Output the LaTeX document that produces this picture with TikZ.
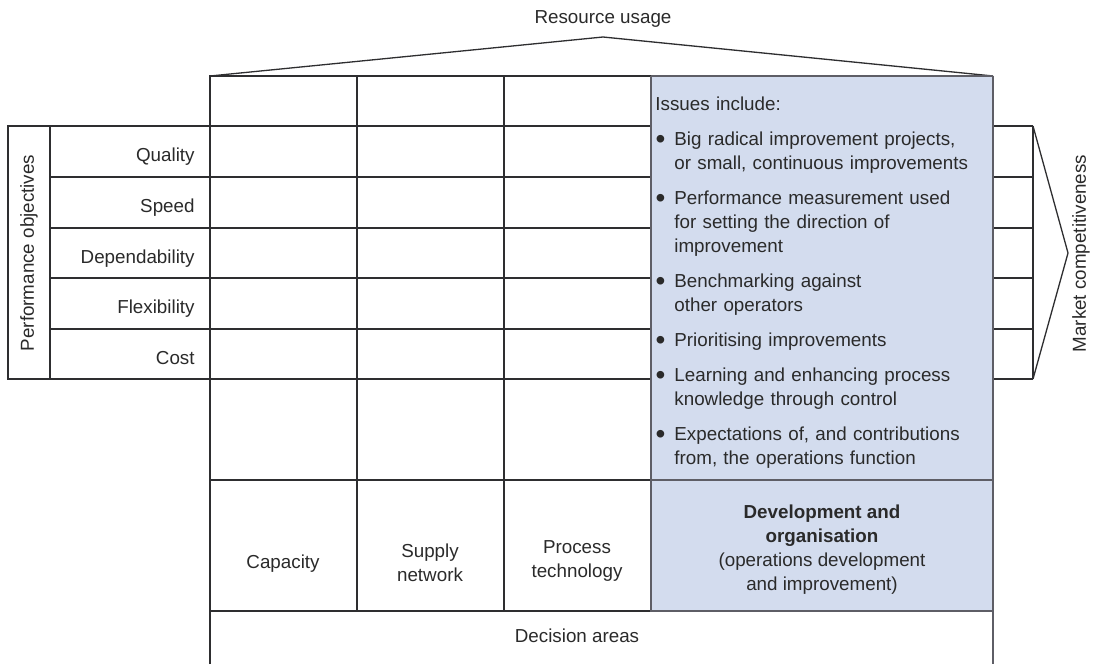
\documentclass[tikz,border=0pt]{standalone}
\usepackage{fontspec}
\setmainfont{Liberation Sans}
\usetikzlibrary{positioning}
\newcommand{\Px}{0.5pt}
\newcommand{\Rule}{0.65pt}
\newcommand{\Frame}{1.0pt}
\definecolor{ink}{HTML}{2E2E30}
\definecolor{frame}{HTML}{5E5E66}
\definecolor{panel}{HTML}{D3DCEE}
\definecolor{txt}{HTML}{2A2A2A}
% one bullet of the issues list
\newcommand{\Dot}{\raisebox{-1.5pt}{\fontsize{14}{12}\selectfont\textbullet}}
\newcommand{\Issue}[1]{\par\vspace{5.5pt}\hangindent=9.5pt\hangafter=0\noindent\llap{\Dot\hspace{4.5pt}}#1}

\begin{document}
\begin{tikzpicture}[x=\Px,y=-\Px, line join=miter,
    font=\fontsize{9.4}{12}\selectfont, text=txt,
    cell/.style={ink,line width=\Rule},
    rowlabel/.style={anchor=base east,inner sep=0pt},
    area/.style={align=center,inner sep=0pt}]
  \useasboundingbox (0,0) rectangle (1096,664);

  % ---- the shaded column: development and organisation -------------------
  \fill[panel] (651,76) rectangle (993,611);

  % ---- roof over the grid ----------------------------------------------------
  \draw[cell] (210,76) -- (603,37) -- (993,76);
  \node[anchor=base] (usage) at (603,24) {Resource usage};

  % ---- grid body -------------------------------------------------------------
  \draw[cell] (210,664) -- (210,76) -- (651,76);
  \foreach \x in {357,504} { \draw[cell] (\x,76) -- (\x,611); }
  \foreach \y in {126,177,228,278,329,379} {
    \draw[cell] (50,\y) -- (651,\y);
    \draw[cell] (993,\y) -- (1033,\y);
  }
  \draw[cell] (50,126) -- (8,126) -- (8,379) -- (50,379);
  \draw[cell] (50,126) -- (50,379);
  \draw[cell] (210,480) -- (651,480);
  \draw[cell] (210,611) -- (651,611);
  % panel edges are a shade greyer and heavier
  \draw[frame,line width=\Frame] (651,76) -- (993,76);
  \draw[frame,line width=\Frame] (651,76) -- (651,611) -- (993,611);
  \draw[frame,line width=\Frame] (651,480) -- (993,480);
  \draw[frame,line width=\Frame] (993,76) -- (993,664);

  % ---- wedge to the right ----------------------------------------------------
  \draw[cell] (1033,126) -- (1033,379);
  \draw[cell] (1033,126) -- (1068,253) -- (1033,379);
  \node[rotate=90] (market) at (1081,253.5) {Market competitiveness};

  % ---- performance objectives ------------------------------------------------
  \node[rotate=90] (objectives) at (29,253) {Performance objectives};
  \foreach \nm/\lab [count=\i] in {quality/Quality,speed/Speed,
      dependability/Dependability,flexibility/Flexibility,cost/Cost} {
    \node[rowlabel] (\nm) at (195,{126+(\i-0.5)*50.6+10.5}) {\lab};
  }

  % ---- decision areas --------------------------------------------------------
  \node[area] (capacity) at (283,564) {Capacity};
  \node[area] (supply) at (430,563) {Supply\\network};
  \node[area] (process) at (577,560.5) {Process\\technology};
  \node[area] (development) at (822,550) {\textbf{Development and}\\
    \textbf{organisation}\\(operations development\\and improvement)};
  \node[anchor=base] (decisions) at (577,642) {Decision areas};

  % ---- issues list -----------------------------------------------------------
  \node[anchor=north west,inner sep=0pt,text width=170pt] (issues) at (655,96) {%
    \raggedright\parindent=0pt Issues include:
    \Issue{Big radical improvement projects,\newline or small, continuous improvements}
    \Issue{Performance measurement used\newline for setting the direction of\newline improvement}
    \Issue{Benchmarking against\newline other operators}
    \Issue{Prioritising improvements}
    \Issue{Learning and enhancing process\newline knowledge through control}
    \Issue{Expectations of, and contributions\newline from, the operations function}\par};

\end{tikzpicture}
\end{document}
